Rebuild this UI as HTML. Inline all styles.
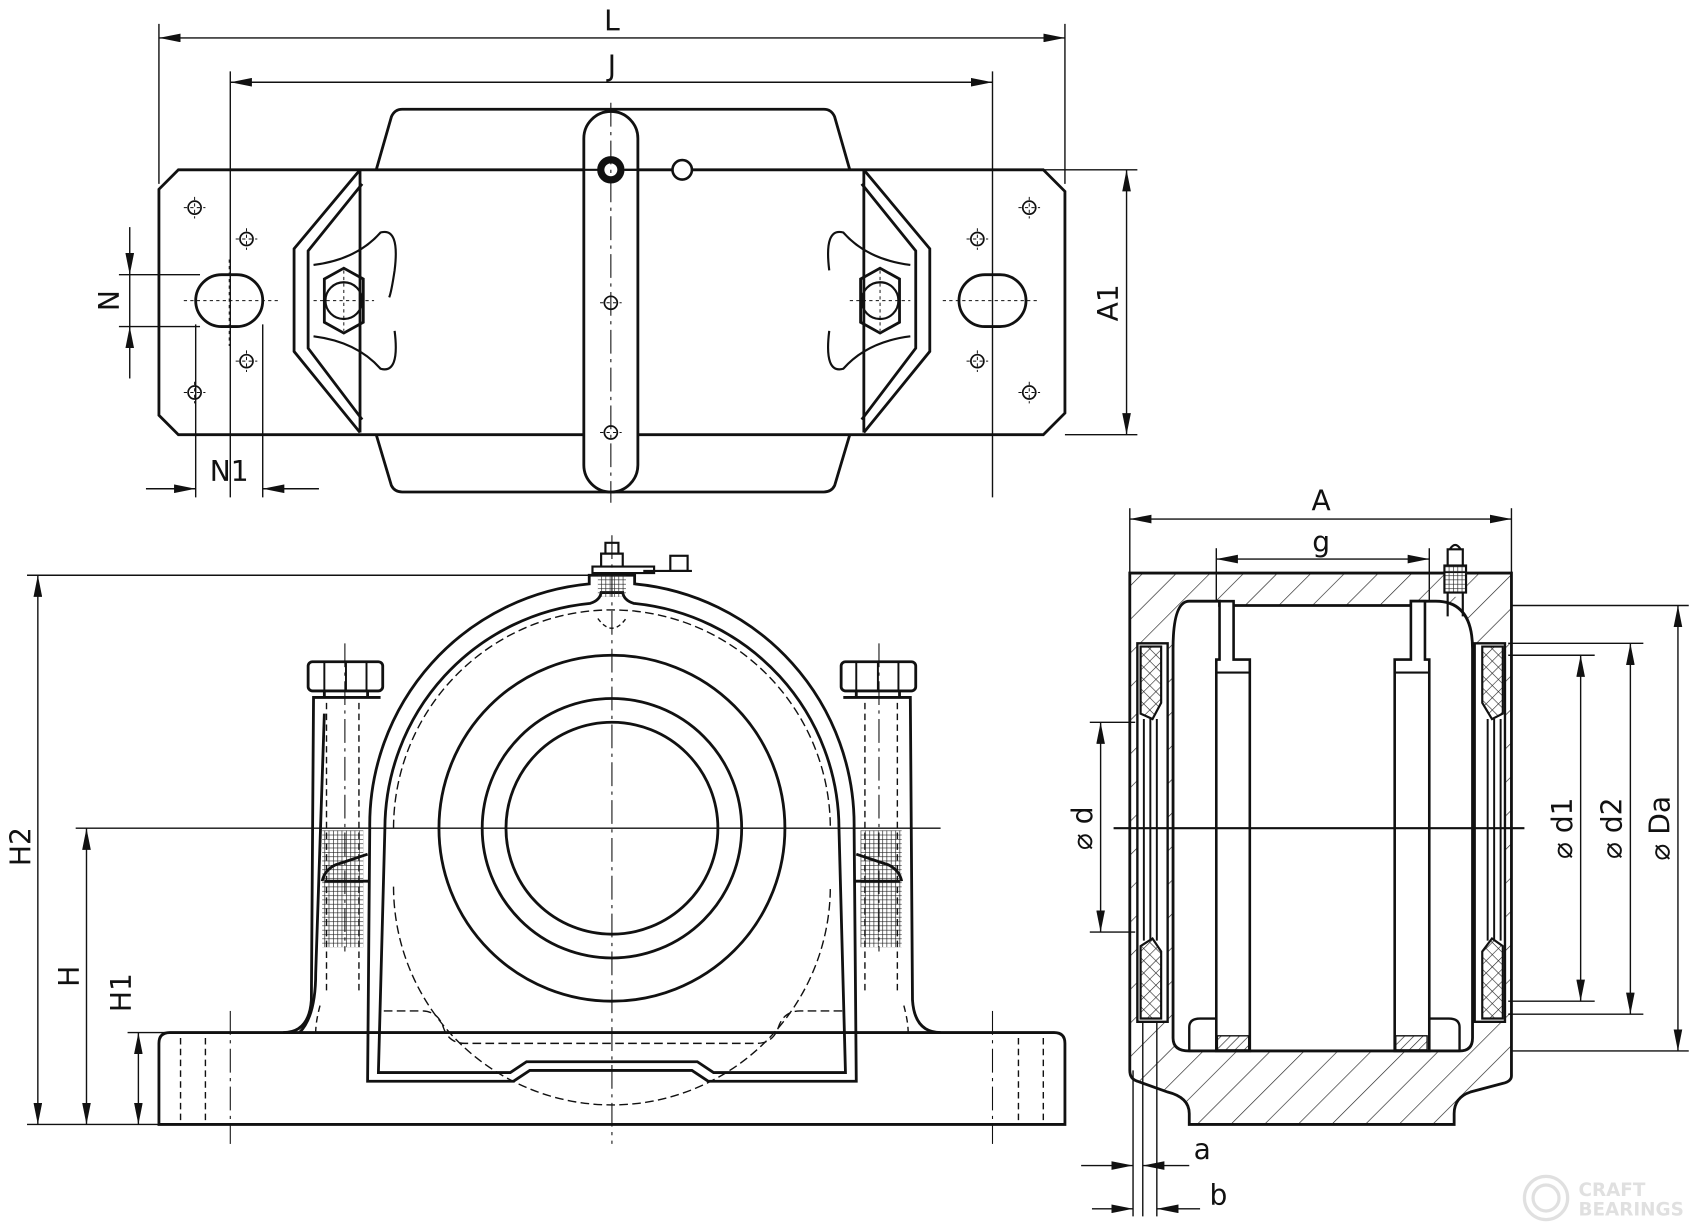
<!DOCTYPE html>
<html><head><meta charset="utf-8"><style>
html,body{margin:0;padding:0;background:#fff}
svg{display:block}
text{font-family:"DejaVu Sans","Liberation Sans",sans-serif;font-size:26px;fill:#111}
</style></head><body>
<svg width="1692" height="1224" viewBox="0 0 1565 1132" xmlns="http://www.w3.org/2000/svg">
<defs>
<marker id="ar" viewBox="0 0 20 8" refX="20" refY="4" markerWidth="20" markerHeight="8" orient="auto-start-reverse" markerUnits="userSpaceOnUse"><path d="M0,0 L20,4 L0,8 z" fill="#111"/></marker>
<pattern id="hat" width="22" height="22" patternUnits="userSpaceOnUse" patternTransform="rotate(45)"><line x1="0" y1="0" x2="0" y2="22" stroke="#222" stroke-width="1.2"/></pattern>
<pattern id="hat2" width="6" height="6" patternUnits="userSpaceOnUse" patternTransform="rotate(45)"><line x1="0" y1="0" x2="0" y2="6" stroke="#222" stroke-width="1.2"/></pattern>
<pattern id="thr" width="4" height="4" patternUnits="userSpaceOnUse"><path d="M0 0V4M0 0H4" stroke="#222" stroke-width="1.2"/></pattern>
<pattern id="xh" width="8" height="8" patternUnits="userSpaceOnUse" patternTransform="rotate(45)"><path d="M0 0V8M0 0H8" stroke="#222" stroke-width="1.1"/></pattern>
</defs>
<g fill="none" stroke="#111" stroke-width="1.3">
<!-- ===== TOP VIEW ===== -->
<line x1="147" y1="22" x2="147" y2="170"/><line x1="985" y1="22" x2="985" y2="170"/>
<line x1="147" y1="35" x2="985" y2="35" marker-start="url(#ar)" marker-end="url(#ar)"/>
<line x1="213" y1="66" x2="213" y2="460"/><line x1="918" y1="66" x2="918" y2="460"/>
<line x1="213" y1="76" x2="918" y2="76" marker-start="url(#ar)" marker-end="url(#ar)"/>
<g stroke-width="2.6">
<path d="M165,157 H965 L985,177 V382 L965,402 H165 L147,384 V175 Z"/>
<path d="M348,157 L362,108 Q365,101 372,101 H762 Q769,101 772,108 L786,157"/>
<path d="M348,402 L362,449 Q365,455 372,455 H762 Q769,455 772,449 L786,402"/>
<path d="M333,157 L272,230 V325 L333,400"/>
<path d="M335,170 L285,232 V322 L335,388"/>
<path d="M799,157 L860,230 V325 L799,400"/>
<path d="M797,170 L847,232 V322 L797,388"/>
<line x1="333" y1="157" x2="333" y2="400"/><line x1="799" y1="157" x2="799" y2="400"/>
<rect x="540" y="103" width="50" height="352" rx="25" fill="#fff"/>
<rect x="181" y="254" width="62" height="48" rx="24"/>
<rect x="887" y="254" width="62" height="48" rx="24"/>
<path d="M300,258 L318,248 L336,258 V298 L318,308 L300,298 Z"/>
<path d="M796,258 L814,248 L832,258 V298 L814,308 L796,298 Z"/>
<path d="M290,245 Q330,240 352,215 Q370,210 365,250 Q362,270 360,275" stroke-width="2"/>
<path d="M290,311 Q330,316 352,341 Q370,346 365,306" stroke-width="2"/>
<path d="M842,245 Q802,240 780,215 Q762,210 767,250" stroke-width="2"/>
<path d="M842,311 Q802,316 780,341 Q762,346 767,306" stroke-width="2"/>
</g>
<circle cx="318" cy="278" r="17" stroke-width="2"/><circle cx="814" cy="278" r="17" stroke-width="2"/>
<line x1="350" y1="157" x2="780" y2="157" stroke-width="2"/>
<circle cx="565" cy="157" r="12" fill="#111"/><circle cx="565" cy="157" r="6" fill="#fff" stroke="none"/>
<line x1="578" y1="157" x2="622" y2="157" stroke-width="2"/>
<circle cx="631" cy="157" r="9" stroke-width="2.4" fill="#fff"/>
<g stroke-width="1.6">
<circle cx="180" cy="192" r="6"/><circle cx="180" cy="363" r="6"/><circle cx="228" cy="221" r="6"/><circle cx="228" cy="334" r="6"/>
<circle cx="952" cy="192" r="6"/><circle cx="952" cy="363" r="6"/><circle cx="904" cy="221" r="6"/><circle cx="904" cy="334" r="6"/>
<circle cx="565" cy="280" r="6"/><circle cx="565" cy="400" r="6"/>
</g>
<g stroke-width="0.9" stroke-dasharray="3,3">
<path d="M170,192H190M180,182V202M170,363H190M180,353V373M218,221H238M228,211V231M218,334H238M228,324V344M942,192H962M952,182V202M942,363H962M952,353V373M894,221H914M904,211V231M894,334H914M904,324V344M555,280H575M555,400H575"/>
<path d="M170,278H260M872,278H962M212,240V320M918,240V320M290,278H346M786,278H842M318,250V306M814,250V306"/>
</g>
<line x1="565" y1="95" x2="565" y2="465" stroke-dasharray="22,5,3,5" stroke-width="1"/>
<!-- N -->
<line x1="110" y1="254" x2="185" y2="254"/><line x1="110" y1="302" x2="185" y2="302"/>
<line x1="120" y1="210" x2="120" y2="254" marker-end="url(#ar)"/><line x1="120" y1="350" x2="120" y2="302" marker-end="url(#ar)"/>
<line x1="120" y1="254" x2="120" y2="302"/>
<line x1="181" y1="300" x2="181" y2="460"/><line x1="243" y1="300" x2="243" y2="460"/>
<line x1="135" y1="452" x2="181" y2="452" marker-end="url(#ar)"/><line x1="295" y1="452" x2="243" y2="452" marker-end="url(#ar)"/>
<!-- A1 -->
<line x1="790" y1="157" x2="1052" y2="157"/><line x1="985" y1="402" x2="1052" y2="402"/>
<line x1="1042" y1="157" x2="1042" y2="402" marker-start="url(#ar)" marker-end="url(#ar)"/>

<!-- ===== FRONT VIEW ===== -->
<line x1="25" y1="532" x2="555" y2="532"/>
<line x1="35" y1="532" x2="35" y2="1040" marker-start="url(#ar)" marker-end="url(#ar)"/>
<line x1="70" y1="766" x2="870" y2="766"/>
<line x1="80" y1="766" x2="80" y2="1040" marker-start="url(#ar)" marker-end="url(#ar)"/>
<line x1="118" y1="955" x2="560" y2="955"/>
<line x1="128" y1="955" x2="128" y2="1040" marker-start="url(#ar)" marker-end="url(#ar)"/>
<line x1="25" y1="1040" x2="147" y2="1040"/>
<rect x="298" y="768" width="38" height="108" fill="url(#thr)" stroke="none"/>
<rect x="796" y="768" width="38" height="108" fill="url(#thr)" stroke="none"/>
<g stroke-width="2.6">
<path d="M147,1040 V965 Q147,955 157,955 H975 Q985,955 985,965 V1040 Z"/>
<path d="M262,955 Q286,955 288,925 L290,645 H352"/>
<path d="M870,955 Q846,955 844,925 L842,645 H780"/>
<rect x="285" y="612" width="69" height="27" rx="4"/><rect x="778" y="612" width="69" height="27" rx="4"/>
<path d="M300,639V645M340,639V645M792,639V645M832,639V645"/>
<path d="M300,612V639M320,612V639M339,612V639M792,612V639M812,612V639M831,612V639" stroke-width="1.8"/>
<path d="M277,955 Q292,940 292,900 L300,660"/>
<path d="M340,1000 L342,766 A224,224 0 0 1 545,540 L545,532 L587,532 L587,540 A224,224 0 0 1 790,766 L792,1000 H655 L640,990 H490 L475,1000 Z"/>
<path d="M350,992 L356,766 A210,210 0 0 1 546,558 Q555,555 556,548 L576,548 Q577,555 586,558 A210,210 0 0 1 776,766 L782,992 H660 L645,982 H487 L472,992 Z"/>
<circle cx="566" cy="766" r="160"/><circle cx="566" cy="766" r="120"/><circle cx="566" cy="766" r="98"/>
<path d="M298,815 Q300,805 310,800 L340,790M834,815 Q832,805 822,800 L792,790"/>
<path d="M300,815 H342M790,815 H832"/>
</g>
<path d="M364,766 A202,202 0 0 1 768,766" stroke-dasharray="8,4"/>
<path d="M364,820 A202,202 0 0 0 768,820" stroke-dasharray="8,4"/>
<path d="M355,935 H390 Q405,935 410,950 Q415,965 430,965 H700 Q715,965 720,950 Q725,935 740,935 H780" stroke-dasharray="8,4"/>
<g stroke-dasharray="6,4">
<path d="M302,650V920M332,650V920M800,650V920M830,650V920M167,960V1040M190,960V1040M942,960V1040M965,960V1040M296,930Q292,945 292,955M836,930Q840,945 840,955"/>
</g>
<rect x="553" y="532" width="26" height="20" fill="url(#thr)" stroke="none"/>
<path d="M548,530 H605 V524 H548 Z M556,524 V512 H576 V524 M560,512 V502 H572 V512" stroke-width="2"/>
<rect x="620" y="514" width="16" height="14" stroke-width="2"/><line x1="595" y1="528" x2="640" y2="528" stroke-width="2"/>
<path d="M553,572 Q566,590 579,572" stroke-dasharray="4,3"/>
<line x1="566" y1="495" x2="566" y2="1058" stroke-dasharray="22,5,3,5" stroke-width="1"/>
<line x1="213" y1="935" x2="213" y2="1058" stroke-dasharray="22,5,3,5" stroke-width="1"/>
<line x1="918" y1="935" x2="918" y2="1058" stroke-dasharray="22,5,3,5" stroke-width="1"/>
<line x1="319" y1="595" x2="319" y2="880" stroke-dasharray="22,5,3,5" stroke-width="1"/>
<line x1="813" y1="595" x2="813" y2="880" stroke-dasharray="22,5,3,5" stroke-width="1"/>

<!-- ===== SIDE VIEW ===== -->
<line x1="1045" y1="470" x2="1045" y2="530"/><line x1="1398" y1="470" x2="1398" y2="530"/>
<line x1="1045" y1="480" x2="1398" y2="480" marker-start="url(#ar)" marker-end="url(#ar)"/>
<line x1="1125" y1="507" x2="1125" y2="560"/><line x1="1322" y1="507" x2="1322" y2="560"/>
<line x1="1125" y1="517" x2="1322" y2="517" marker-start="url(#ar)" marker-end="url(#ar)"/>
<path d="M1045,530 H1398 V995 Q1398,1000 1390,1002 L1360,1010 Q1345,1015 1345,1030 V1040 H1100 V1030 Q1100,1015 1080,1010 L1052,1000 Q1045,998 1045,990 Z" fill="url(#hat)" stroke-width="2.6"/>
<path d="M1100,556 H1128 V560 H1305 V556 H1328 Q1362,556 1362,600 V960 Q1362,972 1350,972 H1100 Q1085,972 1085,960 V600 Q1085,556 1100,556 Z" fill="#fff" stroke-width="2.6"/>
<path d="M1052,595 H1080 V945 H1052 Z" fill="#fff" stroke-width="2.2"/>
<path d="M1364,595 H1392 V945 H1364 Z" fill="#fff" stroke-width="2.2"/>
<path d="M1055,598 H1074 V650 L1066,665 L1055,660 Z" fill="url(#xh)" stroke-width="2"/>
<path d="M1055,942 H1074 V880 L1066,868 L1055,875 Z" fill="url(#xh)" stroke-width="2"/>
<path d="M1371,598 H1390 V660 L1380,665 L1371,650 Z" fill="url(#xh)" stroke-width="2"/>
<path d="M1371,942 H1390 V875 L1380,868 L1371,880 Z" fill="url(#xh)" stroke-width="2"/>
<path d="M1058,665V870M1064,665V870M1070,665V870M1376,665V870M1382,665V870M1388,665V870" stroke-width="1.8"/>
<path d="M1128,556 H1141 V610 H1156 V972 H1125 V610 H1128 Z" fill="#fff" stroke-width="2.4"/>
<path d="M1305,556 H1318 V610 H1322 V972 H1290 V610 H1305 Z" fill="#fff" stroke-width="2.4"/>
<line x1="1125" y1="622" x2="1156" y2="622" stroke-width="2"/><line x1="1290" y1="622" x2="1322" y2="622" stroke-width="2"/>
<rect x="1126" y="958" width="29" height="13" fill="url(#hat2)"/><rect x="1291" y="958" width="29" height="13" fill="url(#hat2)"/>
<path d="M1100,972 V950 Q1100,942 1110,942 H1125M1322,942 H1340 Q1350,942 1350,950 V972" stroke-width="2.2"/>
<rect x="1336" y="530" width="20" height="22" fill="#fff" stroke="none"/>
<rect x="1336" y="523" width="20" height="25" fill="url(#thr)" stroke-width="2"/>
<path d="M1339,523 V508 H1353 V523M1341,508 Q1346,500 1351,508" stroke-width="2"/>
<path d="M1339,548 V570M1353,548 V570" stroke-width="2"/>
<line x1="1030" y1="766" x2="1410" y2="766" stroke-width="2"/>
<!-- dims -->
<line x1="1008" y1="668" x2="1050" y2="668"/><line x1="1008" y1="862" x2="1050" y2="862"/>
<line x1="1018" y1="668" x2="1018" y2="862" marker-start="url(#ar)" marker-end="url(#ar)"/>
<line x1="1395" y1="606" x2="1475" y2="606"/><line x1="1395" y1="926" x2="1475" y2="926"/>
<line x1="1462" y1="606" x2="1462" y2="926" marker-start="url(#ar)" marker-end="url(#ar)"/>
<line x1="1395" y1="595" x2="1520" y2="595"/><line x1="1395" y1="938" x2="1520" y2="938"/>
<line x1="1508" y1="595" x2="1508" y2="938" marker-start="url(#ar)" marker-end="url(#ar)"/>
<line x1="1398" y1="560" x2="1562" y2="560"/><line x1="1398" y1="972" x2="1562" y2="972"/>
<line x1="1552" y1="560" x2="1552" y2="972" marker-start="url(#ar)" marker-end="url(#ar)"/>
<line x1="1048" y1="990" x2="1048" y2="1125"/><line x1="1057" y1="945" x2="1057" y2="1125"/><line x1="1070" y1="945" x2="1070" y2="1125"/>
<line x1="1000" y1="1078" x2="1048" y2="1078" marker-end="url(#ar)"/><line x1="1100" y1="1078" x2="1057" y2="1078" marker-end="url(#ar)"/>
<line x1="1010" y1="1118" x2="1048" y2="1118" marker-end="url(#ar)"/><line x1="1110" y1="1118" x2="1070" y2="1118" marker-end="url(#ar)"/>
</g>
<text x="566" y="28" text-anchor="middle">L</text>
<text x="566" y="70" text-anchor="middle">J</text>
<text x="212" y="445" text-anchor="middle">N1</text>
<text transform="translate(110,278) rotate(-90)" text-anchor="middle">N</text>
<text transform="translate(1034,280) rotate(-90)" text-anchor="middle">A1</text>
<text transform="translate(28,783) rotate(-90)" text-anchor="middle">H2</text>
<text transform="translate(73,903) rotate(-90)" text-anchor="middle">H</text>
<text transform="translate(121,918) rotate(-90)" text-anchor="middle">H1</text>
<text x="1222" y="472" text-anchor="middle">A</text>
<text x="1222" y="510" text-anchor="middle">g</text>
<text transform="translate(1010,766) rotate(-90)" text-anchor="middle">⌀ d</text>
<text transform="translate(1454,766) rotate(-90)" text-anchor="middle">⌀ d1</text>
<text transform="translate(1500,766) rotate(-90)" text-anchor="middle">⌀ d2</text>
<text transform="translate(1544,766) rotate(-90)" text-anchor="middle">⌀ Da</text>
<text x="1112" y="1072" text-anchor="middle">a</text>
<text x="1127" y="1114" text-anchor="middle">b</text>
<g opacity="0.25"><circle cx="1430" cy="1108" r="20" fill="none" stroke="#888" stroke-width="3"/><circle cx="1430" cy="1108" r="12" fill="none" stroke="#888" stroke-width="3"/>
<text x="1460" y="1106" style="font-size:17px;font-weight:bold;fill:#888">CRAFT</text><text x="1460" y="1124" style="font-size:17px;font-weight:bold;fill:#888">BEARINGS</text></g>
</svg>
</body></html>
